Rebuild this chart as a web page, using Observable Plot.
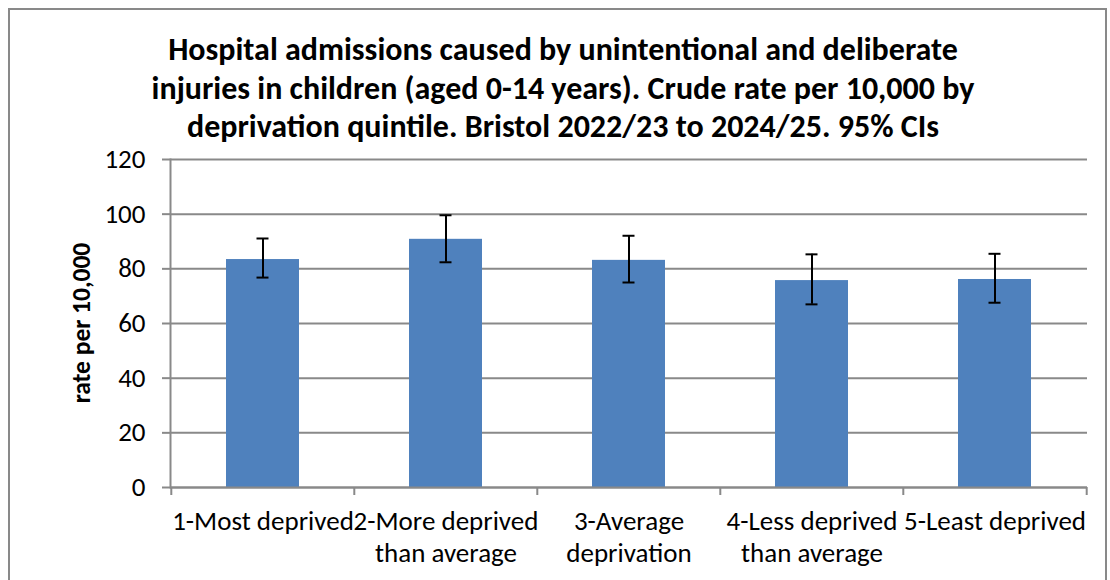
<!DOCTYPE html>
<html>
<head>
<meta charset="utf-8">
<script src="https://cdn.jsdelivr.net/npm/d3@7"></script>
<script src="https://cdn.jsdelivr.net/npm/@observablehq/plot@0.6"></script>
<style>
  html, body { margin: 0; padding: 0; background: #fff; }
  body { width: 1110px; height: 580px; position: relative; overflow: hidden;
         font-family: Carlito, "Liberation Sans Narrow", "Open Sans", sans-serif; color: #000; }
  #border { position: absolute; left: 8px; top: 8px; width: 1099px; height: 640px;
            border: 2px solid #898989; box-sizing: border-box; }
  #title { position: absolute; left: 8px; width: 1110px; top: 31px; text-align: center;
           font-weight: bold; font-size: 32px; line-height: 38.5px; }
  #ylabel { position: absolute; left: 81px; top: 323px; transform: translate(-50%, -50%) rotate(-90deg);
            white-space: nowrap; font-weight: bold; font-size: 25.5px; }
  #chart { position: absolute; left: 0; top: 140px; }
</style>
</head>
<body>
<div id="border"></div>
<div id="title">Hospital admissions caused by unintentional and deliberate<br>injuries in children (aged 0-14 years). Crude rate per 10,000 by<br>deprivation quintile. Bristol 2022/23 to 2024/25. 95% CIs</div>
<div id="ylabel">rate per 10,000</div>
<div id="chart"></div>
<script>
const categories = ["1-Most deprived", "2-More deprived\nthan average", "3-Average\ndeprivation", "4-Less deprived\nthan average", "5-Least deprived"];
const rates = [83.4, 90.8, 83.1, 75.7, 76.1];
const lower = [76.8, 82.4, 75.0, 67.0, 67.6];
const upper = [91.1, 99.6, 92.1, 85.3, 85.5];
const yTicks = [0, 20, 40, 60, 80, 100, 120];

const data = categories.map((c, i) => ({cat: c, rate: rates[i], lo: lower[i], hi: upper[i]}));

const width = 1110, height = 440;
const marginLeft = 170, marginRight = 23, marginTop = 19, marginBottom = 93;
const step = (width - marginLeft - marginRight) / categories.length;
const grey = "#898989";
const font = 'Carlito, "Liberation Sans Narrow", "Open Sans", sans-serif';

const chart = Plot.plot({
  width, height, marginLeft, marginRight, marginTop, marginBottom,
  style: {fontFamily: font, fontSize: "27px", color: "#000", background: "transparent", overflow: "visible"},
  x: {domain: categories, paddingInner: 0.6, paddingOuter: 0.3},
  y: {domain: [0, 120]},
  marks: [
    Plot.gridY(yTicks, {stroke: grey, strokeOpacity: 1, strokeWidth: 2}),
    Plot.barY(data, {x: "cat", y: "rate", fill: "#4F81BD"}),
    Plot.ruleY([0], {stroke: grey, strokeWidth: 2}),
    Plot.frame({anchor: "left", stroke: grey, strokeWidth: 2}),
    Plot.ruleX(data, {x: "cat", y1: "lo", y2: "hi", stroke: "black", strokeWidth: 2}),
    Plot.tickY(data, {x: "cat", y: "lo", stroke: "black", strokeWidth: 2, insetLeft: 30.5, insetRight: 30.5}),
    Plot.tickY(data, {x: "cat", y: "hi", stroke: "black", strokeWidth: 2, insetLeft: 30.5, insetRight: 30.5}),
    Plot.axisY(yTicks, {tickSize: 8, tickPadding: 17, stroke: grey, strokeWidth: 2, fontSize: 27, label: null}),
    Plot.axisX({tickSize: 0, tickPadding: 20, fontSize: 27, lineHeight: 1.17, label: null}),
    Plot.axisX(categories, {tickSize: 8, tickFormat: () => "", dx: -step / 2, stroke: grey, strokeWidth: 2, label: null}),
    Plot.axisX([categories[categories.length - 1]], {tickSize: 8, tickFormat: () => "", dx: step / 2, stroke: grey, strokeWidth: 2, label: null})
  ]
});
document.getElementById("chart").appendChild(chart);
</script>
</body>
</html>
